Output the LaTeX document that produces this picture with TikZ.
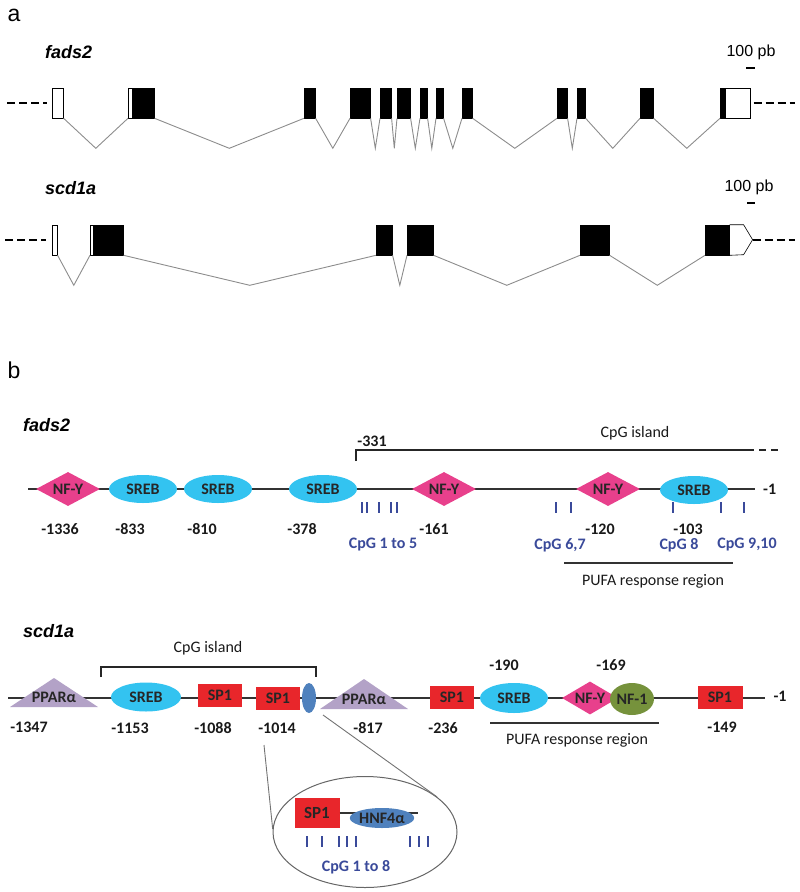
\documentclass[tikz,border=0pt]{standalone}
\usepackage{fontspec}
\setmainfont{Carlito}
\newfontfamily\arialfont{Liberation Sans}
\usetikzlibrary{shapes.geometric, calc}
\definecolor{nfyc}{HTML}{E8408C}
\definecolor{srebc}{HTML}{33C3F0}
\definecolor{sponec}{HTML}{E8262B}
\definecolor{pparc}{HTML}{B3A2C7}
\definecolor{nfonec}{HTML}{76923C}
\definecolor{hnfc}{HTML}{4F81BD}
\definecolor{cpgc}{HTML}{3A4A9A}
\tikzstyle{exon} = [rectangle, fill=black, draw=black, line width=0.6pt, inner sep=0pt, minimum height=30pt, anchor=west]
\tikzstyle{utr} = [exon, fill=white]
\tikzstyle{intron} = [draw=black!45, line width=0.9pt]
\tikzstyle{flank} = [line width=2.6pt, dash pattern=on 8pt off 4pt]
\tikzstyle{gene} = [font=\arialfont\bfseries\itshape\fontsize{18}{18}\selectfont, anchor=west, inner sep=0pt]
\tikzstyle{panel} = [font=\arialfont\fontsize{23}{23}\selectfont, inner sep=0pt]
\tikzstyle{scalebar} = [font=\arialfont\fontsize{16}{16}\selectfont, inner sep=0pt]
\tikzstyle{site} = [font=\bfseries\fontsize{16}{16}\selectfont, text=black!85, inner sep=0pt]
\tikzstyle{nfy} = [diamond, aspect=1.9, fill=nfyc, minimum width=64pt, minimum height=34pt, site]
\tikzstyle{sreb} = [ellipse, fill=srebc, minimum width=68pt, minimum height=28pt, site]
\tikzstyle{spone} = [rectangle, fill=sponec, minimum width=44pt, minimum height=23pt, site]
\tikzstyle{posnum} = [font=\bfseries\fontsize{16}{16}\selectfont, text=black!90, inner sep=0pt]
\tikzstyle{plain} = [posnum, font=\fontsize{16}{16}\selectfont]
\tikzstyle{cpg} = [draw=cpgc, line width=1.3pt]
\tikzstyle{cpgtext} = [posnum, text=cpgc]
\tikzstyle{dna} = [draw=black!80, line width=1.4pt]
\tikzstyle{bracket} = [draw=black!85, line width=1.1pt]
\tikzstyle{zoomline} = [draw=black!55, line width=0.9pt]
\newcommand{\intron}[2]{\draw[intron] (#1.south east) -- ($(#1.south east)!.5!(#2.south west)+(0,30)$) -- (#2.south west);}

\begin{document}
\begin{tikzpicture}[x=1pt, y=-1pt]
	\useasboundingbox (0,0) rectangle (800,892);

	% a: gene structures
	\node (pa) [panel] at (14,15) {a};

	\node (fgene) [gene] at (45,52) {fads2};
	\node (fscale) [scalebar] at (751,52) {100 pb};
	\coordinate (fsb0) at (746,68);
	\coordinate (fsb1) at (755,68);
	\draw [line width=2.5pt] (fsb0) -- (fsb1);

	\node (f1) [utr, minimum width=11pt] at (52,103) {};
	\node (f2u) [utr, minimum width=4pt] at (128,103) {};
	\node (f2) [exon, minimum width=22pt] at (132,103) {};
	\node (f3) [exon, minimum width=11pt] at (304,103) {};
	\node (f4) [exon, minimum width=20pt] at (350,103) {};
	\node (f5) [exon, minimum width=11pt] at (380,103) {};
	\node (f6) [exon, minimum width=13pt] at (397,103) {};
	\node (f7) [exon, minimum width=7pt] at (420,103) {};
	\node (f8) [exon, minimum width=7pt] at (436,103) {};
	\node (f9) [exon, minimum width=10pt] at (462,103) {};
	\node (f10) [exon, minimum width=10pt] at (557,103) {};
	\node (f11) [exon, minimum width=8pt] at (577,103) {};
	\node (f12) [exon, minimum width=13pt] at (640,103) {};
	\node (f13) [exon, minimum width=5pt] at (720,103) {};
	\node (f13u) [utr, minimum width=25pt] at (725,103) {};
	\foreach \a/\b in {f1/f2u, f2/f3, f3/f4, f4/f5, f5/f6, f6/f7, f7/f8, f8/f9, f9/f10, f10/f11, f11/f12, f12/f13}
		\intron{\a}{\b}
	\coordinate (fl) at (7,103);
	\coordinate (fr) at (795,103);
	\draw [flank] (fl) -- ($(f1.west)+(-5,0)$);
	\draw [flank] ($(f13u.east)+(3,0)$) -- (fr);

	\node (sgene) [gene] at (45,188) {scd1a};
	\node (sscale) [scalebar] at (749,187) {100 pb};
	\coordinate (ssb0) at (747,203);
	\coordinate (ssb1) at (755,203);
	\draw [line width=2.5pt] (ssb0) -- (ssb1);

	\node (s1) [utr, minimum width=5pt] at (52,240) {};
	\node (s2u) [utr, minimum width=3pt] at (90,240) {};
	\node (s2) [exon, minimum width=30pt] at (93,240) {};
	\node (s3) [exon, minimum width=16pt] at (376,240) {};
	\node (s4) [exon, minimum width=26pt] at (407,240) {};
	\node (s5) [exon, minimum width=29pt] at (580,240) {};
	\node (s6) [exon, minimum width=24pt] at (705,240) {};
	\draw [line width=0.6pt] (s6.north east) -- ++(14,0) -- ++(9,15) -- ++(-9,15) -- (s6.south east);
	\coordinate (stip) at ($(s6.east)+(23,0)$);
	\foreach \a/\b in {s1/s2u, s2/s3, s3/s4, s4/s5, s5/s6}
		\intron{\a}{\b}
	\coordinate (sl) at (5,240);
	\coordinate (sr) at (795,240);
	\draw [flank] (sl) -- ($(s1.west)+(-6,0)$);
	\draw [flank] (stip) -- (sr);

	% b: promoters
	\node (pb) [panel] at (14,370) {b};

	\node (fgene2) [gene] at (23,425) {fads2};
	\coordinate (fb0) at (28,489);
	\coordinate (fb1) at (755,489);
	\draw [dna] (fb0) -- (fb1);
	\coordinate (fi0) at (356,461);
	\coordinate (fi1) at (747,450);
	\coordinate (fi2) at (780,450);
	\draw [bracket] (fi0) |- (fi1);
	\draw [bracket, dash pattern=on 7pt off 5pt] (fi1) -- (fi2);
	\node (fisland) [plain] at (635,433) {CpG island};
	\node (f331) [posnum] at (372,441) {-331};

	\node (fnfy1) [nfy] at (68,489) {NF-Y};
	\node (fsreb1) [sreb] at (143,489) {SREB};
	\node (fsreb2) [sreb] at (218,489) {SREB};
	\node (fsreb3) [sreb] at (323,489) {SREB};
	\node (fnfy2) [nfy] at (444,489) {NF-Y};
	\node (fnfy3) [nfy] at (608,489) {NF-Y};
	\node (fsreb4) [sreb] at (694,490) {SREB};
	\node (fone) [posnum, anchor=west] at (763,489) {-1};

	\node (f1336) [posnum] at (60,529) {-1336};
	\node (f833) [posnum] at (130,529) {-833};
	\node (f810) [posnum] at (202,529) {-810};
	\node (f378) [posnum] at (302,529) {-378};
	\node (f161) [posnum] at (434,529) {-161};
	\node (f120) [posnum] at (600,529) {-120};
	\node (f103) [posnum] at (688,529) {-103};

	\foreach \x in {362,367,379,391,397,556,571,673,721,744}
		\draw [cpg] (\x,502) -- (\x,513);
	\node (fcpg15) [cpgtext] at (383,545) {CpG 1 to 5};
	\node (fcpg67) [cpgtext] at (560,545) {CpG 6,7};
	\node (fcpg8) [cpgtext] at (679,545) {CpG 8};
	\node (fcpg910) [cpgtext] at (747,545) {CpG 9,10};

	\coordinate (fp0) at (564,563);
	\coordinate (fp1) at (733,563);
	\draw [dna] (fp0) -- (fp1);
	\node (fpufa) [plain] at (653,581) {PUFA response region};

	\node (sgene2) [gene] at (23,631) {scd1a};
	\coordinate (sb0) at (8,698);
	\coordinate (sb1) at (765,698);
	\draw [dna] (sb0) -- (sb1);
	\coordinate (si0) at (101,677);
	\coordinate (si1) at (316,677);
	\draw [bracket] (si0) |- ($(si0)!.5!(si1)+(0,-10)$) -| (si1);
	\node (sisland) [plain] at (208,648) {CpG island};

	\coordinate (t1) at (54,707);
	\fill [pparc] ($(t1)+(-44,0)$) -- ($(t1)+(0,-29)$) -- ($(t1)+(44,0)$) -- cycle;
	\node (sppar1) [site] at (54,697) {PPARα};
	\coordinate (t2) at (364,709);
	\fill [pparc] ($(t2)+(-44,0)$) -- ($(t2)+(0,-30)$) -- ($(t2)+(44,0)$) -- cycle;
	\node (sppar2) [site] at (364,699) {PPARα};

	\node (ssreb1) [sreb, minimum width=70pt, minimum height=29pt] at (146,697) {SREB};
	\node (ssp1) [spone] at (220,695) {SP1};
	\node (ssp2) [spone] at (278,698) {SP1};
	\node (shnf) [ellipse, fill=hnfc, inner sep=0pt, minimum width=14pt, minimum height=30pt] at (309,698) {};
	\node (ssp3) [spone] at (452,697) {SP1};
	\node (ssreb2) [sreb, minimum width=68pt, minimum height=30pt] at (514,698) {SREB};
	\node (snfy) [nfy, minimum width=56pt, minimum height=33pt] at (590,698) {NF-Y};
	\node (snfone) [ellipse, fill=nfonec, site, minimum width=44pt, minimum height=32pt] at (632,699) {NF-1};
	\node (ssp4) [spone, minimum width=45pt] at (720,697) {SP1};
	\node (sone) [posnum] at (780,696) {-1};

	\node (s1347) [posnum] at (29,727) {-1347};
	\node (s1153) [posnum] at (130,728) {-1153};
	\node (s1088) [posnum] at (213,728) {-1088};
	\node (s1014) [posnum] at (277,728) {-1014};
	\node (s817) [posnum] at (368,728) {-817};
	\node (s236) [posnum] at (443,728) {-236};
	\node (s190) [posnum] at (504,665) {-190};
	\node (s169) [posnum] at (611,665) {-169};
	\node (s149) [posnum] at (722,727) {-149};

	\coordinate (sp0) at (490,723);
	\coordinate (sp1) at (659,723);
	\draw [dna] (sp0) -- (sp1);
	\node (spufa) [plain] at (577,740) {PUFA response region};

	% zoomed CpG island end
	\node (zoomview) [ellipse, draw=black!60, line width=1pt, inner sep=0pt, minimum width=184pt, minimum height=111pt] at (365,832) {};
	\coordinate (zl) at (264,745);
	\coordinate (zr) at (323,715);
	\draw [zoomline] (zl) -- (zoomview.178);
	\draw [zoomline] (zr) -- (zoomview.26);

	\node (isp1) [spone, minimum width=45pt, minimum height=30pt, font=\bfseries\fontsize{17}{17}\selectfont] at (317,813) {SP1};
	\coordinate (iend) at (418,813);
	\draw [dna] (isp1) -- (iend);
	\node (ihnf) [ellipse, fill=hnfc, site, font=\bfseries\fontsize{16}{16}\selectfont, minimum width=56pt, minimum height=20pt] at (382,818) {HNF4α};
	\foreach \x in {307,322,339,347,356,410,419,428}
		\draw [cpg] (\x,836) -- (\x,847);
	\node (icpg) [cpgtext, font=\bfseries\fontsize{16}{16}\selectfont] at (356,867) {CpG 1 to 8};
\end{tikzpicture}
\end{document}
